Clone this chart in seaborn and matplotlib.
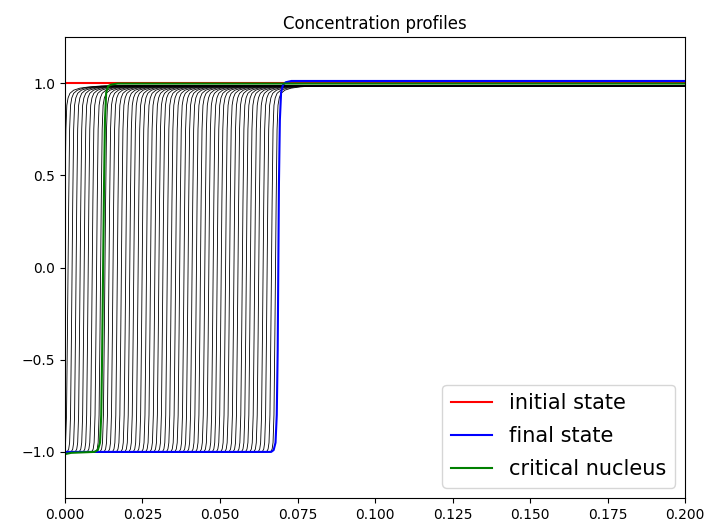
import numpy as np
import pandas as pd
import matplotlib
matplotlib.use("Agg")
import matplotlib.pyplot as plt
import seaborn as sns

# ---- data ----
# interface positions of the intermediate (black) profiles
front_positions = [-0.0002, 0.0010, 0.0023, 0.0036, 0.0049, 0.0062, 0.0075, 0.0088,
                   0.0102, 0.0115, 0.0129, 0.0142, 0.0155, 0.0169, 0.0182, 0.0196,
                   0.0209, 0.0222, 0.0236, 0.0249, 0.0263, 0.0276, 0.0290, 0.0303,
                   0.0316, 0.0330, 0.0343, 0.0357, 0.0370, 0.0384, 0.0397, 0.0410,
                   0.0424, 0.0437, 0.0451, 0.0464, 0.0478, 0.0491, 0.0504, 0.0518,
                   0.0531, 0.0545, 0.0558, 0.0572, 0.0585, 0.0598, 0.0612, 0.0625,
                   0.0639, 0.0652, 0.0666, 0.0679]
# shape of a black profile around its interface (offset, value)
profile_dx = [-0.0200, -0.0016, -0.0011, -0.0008, -0.0005, -0.0002, 0.0,
              0.0002, 0.0005, 0.0008, 0.0012, 0.0018, 0.0030, 0.0050,
              0.0080, 0.0120, 0.2500]
profile_y = [-1.0, -1.0, -0.985, -0.95, -0.80, -0.35, 0.0,
             0.35, 0.75, 0.88, 0.92, 0.945, 0.962, 0.973,
             0.980, 0.985, 0.985]

# initial state
initial_x = [0.0, 0.2]
initial_y = [1.0, 1.0]

# final state
final_x = [0.0, 0.0665, 0.0673, 0.0679, 0.0683, 0.0686, 0.0688, 0.0690,
           0.0693, 0.0697, 0.0703, 0.0712, 0.0730, 0.2]
final_y = [-1.0, -1.0, -0.99, -0.95, -0.80, -0.45, 0.0, 0.45,
           0.80, 0.95, 0.99, 1.005, 1.012, 1.012]

# critical nucleus
critical_x = [0.0, 0.0020, 0.0095, 0.0106, 0.0113, 0.0117, 0.0120, 0.0123,
              0.0126, 0.0129, 0.0133, 0.0140, 0.0150, 0.0170, 0.2]
critical_y = [-1.012, -1.005, -1.0, -0.99, -0.95, -0.80, -0.45, 0.0,
              0.45, 0.80, 0.95, 0.985, 0.993, 0.998, 0.998]

# ---- build long table for the black profiles ----
rows = []
pdx = np.array(profile_dx)
for i, pos in enumerate(front_positions):
    xs = pdx + pos
    for xv, yv in zip(xs, profile_y):
        rows.append((i, xv, yv))
df = pd.DataFrame(rows, columns=["curve", "x", "y"])

fig = plt.figure(figsize=(7.1, 5.3), dpi=100)
ax = fig.add_axes([0.0915, 0.0604, 0.8735, 0.8696])

sns.lineplot(data=df, x="x", y="y", units="curve", estimator=None, sort=False,
             color="black", linewidth=0.6, ax=ax, legend=False)
sns.lineplot(x=initial_x, y=initial_y, color="red", linewidth=1.5, ax=ax,
             label="initial state", sort=False)
sns.lineplot(x=final_x, y=final_y, color="blue", linewidth=1.5, ax=ax,
             label="final state", sort=False)
sns.lineplot(x=critical_x, y=critical_y, color="green", linewidth=1.5, ax=ax,
             label="critical nucleus", sort=False)

ax.set_xlim(0, 0.2)
ax.set_ylim(-1.25, 1.25)
ax.set_xticks([0.0, 0.025, 0.05, 0.075, 0.1, 0.125, 0.15, 0.175, 0.2])
ax.set_xticklabels(["0.000", "0.025", "0.050", "0.075", "0.100", "0.125",
                    "0.150", "0.175", "0.200"])
ax.set_yticks([-1.0, -0.5, 0.0, 0.5, 1.0])
ax.set_xlabel("")
ax.set_ylabel("")
ax.set_title("Concentration profiles", fontsize=12)
ax.legend(loc="lower right", fontsize=15, labelspacing=0.62)

fig.savefig("out.png", dpi=100)
